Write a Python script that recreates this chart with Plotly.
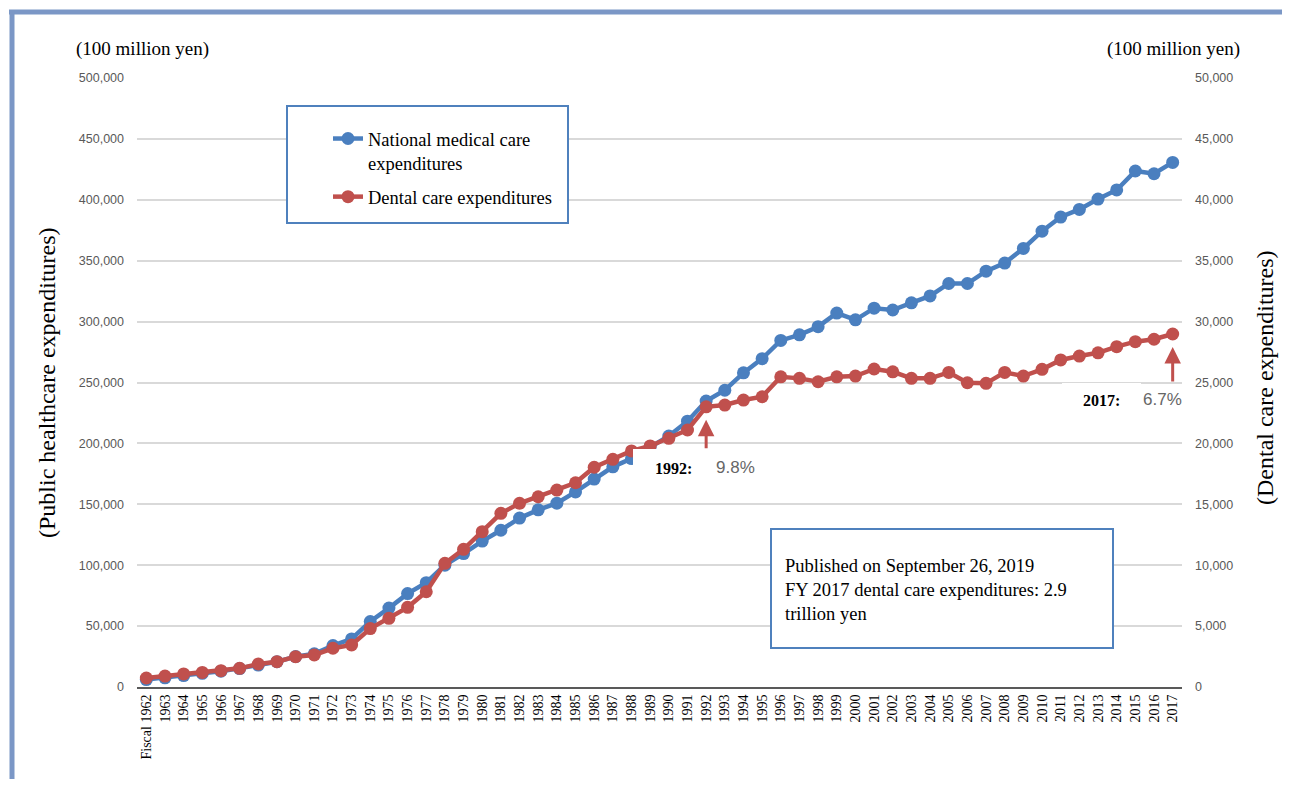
import plotly.graph_objects as go

# ----------------------------------------------------------
# DATA (100 million yen)
# ----------------------------------------------------------

years = list(range(1962, 2018))
year_labels = ["Fiscal 1962"] + [str(y) for y in years[1:]]

national_medical = [
    6132, 7541, 9389, 11224, 13002, 15116, 18016, 20780, 24962, 27250,
    33994, 39496, 53786, 64779, 76684, 85686, 100042, 109510, 119805, 128709,
    138659, 145438, 150932, 160159, 170690, 180759, 187554, 197290, 206074, 218260,
    234784, 243631, 257908, 269577, 284542, 289149, 295823, 307019, 301418, 310998,
    309507, 315375, 321111, 331289, 331276, 341360, 348084, 360067, 374202, 385850,
    392117, 400610, 408071, 423644, 421381, 430710,
]

dental_care = [
    740, 900, 1070, 1200, 1340, 1530, 1890, 2080, 2490, 2630,
    3180, 3450, 4800, 5640, 6540, 7820, 10150, 11300, 12750, 14260,
    15080, 15620, 16170, 16770, 18040, 18690, 19380, 19790, 20420, 21100,
    23000, 23150, 23560, 23830, 25470, 25340, 25060, 25470, 25530, 26110,
    25880, 25340, 25340, 25830, 24980, 24930, 25830, 25530, 26080, 26850,
    27170, 27440, 27940, 28350, 28550, 28980,
]

share_notes = {1992: "9.8%", 2017: "6.7%"}

# ----------------------------------------------------------
# STYLE
# ----------------------------------------------------------

BLUE = "#4a7fbf"
RED = "#c0504d"
FRAME = "#7b97c6"
SERIF = "Liberation Serif"
SANS = "Liberation Sans"

# page has an 8px body margin, so the figure sits 8px in from the window
OFF = 8
W, H = 1290 - 2 * OFF, 787 - 2 * OFF
PLOT_L, PLOT_R, PLOT_T, PLOT_B = 137, 1182, 78, 687   # window pixels


def px2x(px):
    return (px - PLOT_L) / (PLOT_R - PLOT_L)


def py2y(py):
    return (PLOT_B - py) / (PLOT_B - PLOT_T)


def label(text, px, py, font, **kw):
    return dict(text=text, xref="paper", yref="paper",
                x=px2x(px), y=py2y(py), xanchor="center", yanchor="middle",
                showarrow=False, font=font, **kw)


fig = go.Figure()

fig.add_trace(go.Scatter(
    x=years,
    y=national_medical,
    name="National medical care<br>expenditures",
    mode="lines+markers",
    line=dict(color=BLUE, width=4.5),
    marker=dict(color=BLUE, size=13),
    legendgroup="a",
))

fig.add_trace(go.Scatter(
    x=years,
    y=dental_care,
    yaxis="y2",
    name="Dental care expenditures",
    mode="lines+markers",
    line=dict(color=RED, width=4.5),
    marker=dict(color=RED, size=13),
    legendgroup="b",
))

shapes = [
    # outer frame (top and left only)
    dict(type="line", xref="paper", yref="paper",
         x0=px2x(9), x1=px2x(1300), y0=py2y(12), y1=py2y(12),
         line=dict(color=FRAME, width=5)),
    dict(type="line", xref="paper", yref="paper",
         x0=px2x(12), x1=px2x(12), y0=py2y(10), y1=py2y(800),
         line=dict(color=FRAME, width=5)),
    # legend box
    dict(type="rect", xref="paper", yref="paper", layer="above",
         x0=px2x(287), x1=px2x(568), y0=py2y(106), y1=py2y(223),
         fillcolor="white", line=dict(color="#4f81bd", width=2)),
    # note box
    dict(type="rect", xref="paper", yref="paper", layer="above",
         x0=px2x(771), x1=px2x(1113), y0=py2y(529), y1=py2y(648),
         fillcolor="white", line=dict(color="#4f81bd", width=2)),
    # white label patches
    dict(type="rect", xref="paper", yref="paper", layer="above",
         x0=px2x(633), x1=px2x(712), y0=py2y(449), y1=py2y(490),
         fillcolor="white", line=dict(width=0)),
    dict(type="rect", xref="paper", yref="paper", layer="above",
         x0=px2x(1062), x1=px2x(1141), y0=py2y(383), y1=py2y(420),
         fillcolor="white", line=dict(width=0)),
]

annotations = [
    label("(100 million yen)", 142, 49,
          dict(family=SERIF, size=19, color="black")),
    label("(100 million yen)", 1173, 49,
          dict(family=SERIF, size=19, color="black")),
    label("(Public healthcare expenditures)", 47, 383,
          dict(family=SERIF, size=24, color="black"), textangle=-90),
    label("(Dental care expenditures)", 1265, 378,
          dict(family=SERIF, size=24, color="black"), textangle=-90),
    dict(text="Published on September 26, 2019<br>"
              "FY 2017 dental care expenditures: 2.9<br>trillion yen",
         xref="paper", yref="paper", x=px2x(783), y=py2y(590),
         xanchor="left", yanchor="middle", align="left", showarrow=False,
         font=dict(family=SERIF, size=18.5, color="black")),
    label("<b>1992:</b>", 673, 468,
          dict(family=SERIF, size=16, color="black")),
    label("<b>2017:</b>", 1101, 400,
          dict(family=SERIF, size=16, color="black")),
]

label_pos = {1992: (735, 467), 2017: (1162, 399)}
tail_len = {1992: 43, 2017: 49}
for yr, pct in share_notes.items():
    i = years.index(yr)
    annotations.append(dict(
        x=yr, y=dental_care[i], xref="x", yref="y2",
        text="", showarrow=True, ax=0, ay=tail_len[yr],
        standoff=13, arrowhead=2, arrowsize=1.1, arrowwidth=3,
        arrowcolor=RED,
    ))
    px, py = label_pos[yr]
    annotations.append(label(pct, px, py,
                             dict(family=SANS, size=17, color="#666666")))

fig.update_layout(
    width=W,
    height=H,
    margin=dict(
        l=PLOT_L - OFF,
        r=(1290 - OFF) - PLOT_R,
        t=PLOT_T - OFF,
        b=(787 - OFF) - PLOT_B,
    ),
    paper_bgcolor="white",
    plot_bgcolor="white",
    showlegend=True,
    legend=dict(
        x=px2x(328), y=py2y(120), xanchor="left", yanchor="top",
        bgcolor="rgba(0,0,0,0)", valign="top", tracegroupgap=7,
        font=dict(family=SERIF, size=18.5, color="black"),
    ),
    xaxis=dict(
        range=[1961.5, 2017.5],
        tickvals=years,
        ticktext=year_labels,
        tickangle=-90,
        tickfont=dict(family=SERIF, size=14, color="black"),
        showgrid=False,
        zeroline=False,
        showline=True,
        linecolor="#595959",
        linewidth=2,
    ),
    yaxis=dict(
        range=[0, 500000],
        dtick=50000,
        tickformat=",",
        showgrid=True,
        gridcolor="#d9d9d9",
        gridwidth=1.5,
        zeroline=False,
        ticklabelstandoff=12,
        tickfont=dict(family=SANS, size=12.5, color="#595959"),
    ),
    yaxis2=dict(
        overlaying="y",
        side="right",
        range=[0, 50000],
        dtick=5000,
        tickformat=",",
        showgrid=False,
        zeroline=False,
        ticklabelstandoff=12,
        tickfont=dict(family=SANS, size=12.5, color="#595959"),
    ),
    shapes=shapes,
    annotations=annotations,
)

fig.write_html("out.html")
